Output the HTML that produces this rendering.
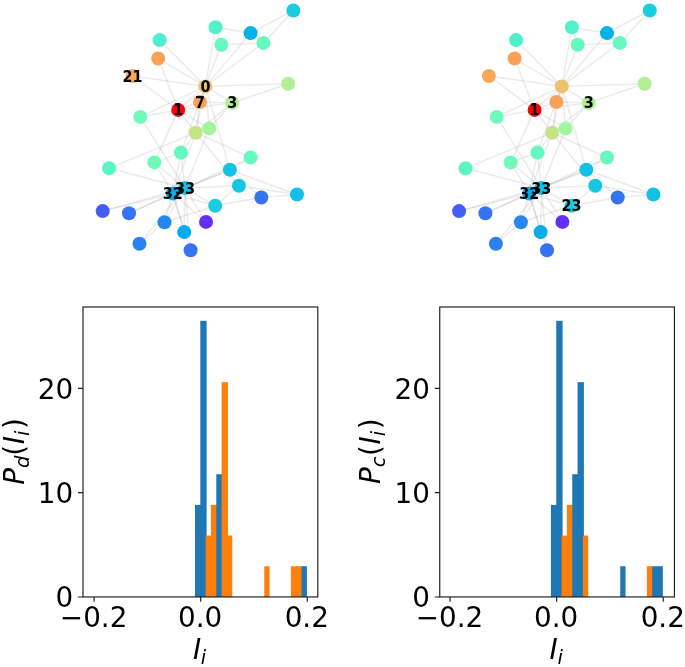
<!DOCTYPE html>
<html><head><meta charset="utf-8"><title>Figure</title>
<style>
html,body{margin:0;padding:0;background:#fff;}
svg{display:block;}
</style></head><body>
<svg width="685" height="667" viewBox="0 0 685 667">
<rect width="685" height="667" fill="#fff"/>
<g transform="translate(0,0)">
<g stroke="#6e6a70" stroke-opacity="0.135" stroke-width="1.45" fill="none">
<line x1="205.4" y1="86.4" x2="178.2" y2="109.9"/>
<line x1="205.4" y1="86.4" x2="195.8" y2="132.7"/>
<line x1="205.4" y1="86.4" x2="232.3" y2="102.9"/>
<line x1="205.4" y1="86.4" x2="221.3" y2="44.7"/>
<line x1="205.4" y1="86.4" x2="250.6" y2="33.1"/>
<line x1="205.4" y1="86.4" x2="263.4" y2="42.9"/>
<line x1="205.4" y1="86.4" x2="200.0" y2="102.0"/>
<line x1="205.4" y1="86.4" x2="181.0" y2="152.6"/>
<line x1="205.4" y1="86.4" x2="215.5" y2="27.3"/>
<line x1="205.4" y1="86.4" x2="159.7" y2="40.1"/>
<line x1="205.4" y1="86.4" x2="288.2" y2="83.8"/>
<line x1="205.4" y1="86.4" x2="209.2" y2="128.4"/>
<line x1="205.4" y1="86.4" x2="158.2" y2="58.5"/>
<line x1="205.4" y1="86.4" x2="140.3" y2="116.9"/>
<line x1="205.4" y1="86.4" x2="132.5" y2="76.0"/>
<line x1="205.4" y1="86.4" x2="229.9" y2="169.8"/>
<line x1="178.2" y1="109.9" x2="195.8" y2="132.7"/>
<line x1="178.2" y1="109.9" x2="232.3" y2="102.9"/>
<line x1="178.2" y1="109.9" x2="200.0" y2="102.0"/>
<line x1="178.2" y1="109.9" x2="209.2" y2="128.4"/>
<line x1="178.2" y1="109.9" x2="158.2" y2="58.5"/>
<line x1="178.2" y1="109.9" x2="140.3" y2="116.9"/>
<line x1="178.2" y1="109.9" x2="132.5" y2="76.0"/>
<line x1="178.2" y1="109.9" x2="154.3" y2="162.4"/>
<line x1="195.8" y1="132.7" x2="232.3" y2="102.9"/>
<line x1="195.8" y1="132.7" x2="200.0" y2="102.0"/>
<line x1="195.8" y1="132.7" x2="181.0" y2="152.6"/>
<line x1="195.8" y1="132.7" x2="109.1" y2="168.2"/>
<line x1="195.8" y1="132.7" x2="209.2" y2="128.4"/>
<line x1="195.8" y1="132.7" x2="238.9" y2="185.8"/>
<line x1="195.8" y1="132.7" x2="250.6" y2="157.5"/>
<line x1="195.8" y1="132.7" x2="172.8" y2="193.5"/>
<line x1="232.3" y1="102.9" x2="200.0" y2="102.0"/>
<line x1="232.3" y1="102.9" x2="288.2" y2="83.8"/>
<line x1="232.3" y1="102.9" x2="209.2" y2="128.4"/>
<line x1="221.3" y1="44.7" x2="263.4" y2="42.9"/>
<line x1="221.3" y1="44.7" x2="215.5" y2="27.3"/>
<line x1="250.6" y1="33.1" x2="263.4" y2="42.9"/>
<line x1="250.6" y1="33.1" x2="215.5" y2="27.3"/>
<line x1="250.6" y1="33.1" x2="293.35" y2="10.5"/>
<line x1="263.4" y1="42.9" x2="293.35" y2="10.5"/>
<line x1="181.0" y1="152.6" x2="154.3" y2="162.4"/>
<line x1="181.0" y1="152.6" x2="172.8" y2="193.5"/>
<line x1="181.0" y1="152.6" x2="184.9" y2="188.0"/>
<line x1="109.1" y1="168.2" x2="184.9" y2="188.0"/>
<line x1="209.2" y1="128.4" x2="184.9" y2="188.0"/>
<line x1="102.7" y1="211.1" x2="172.8" y2="193.5"/>
<line x1="102.7" y1="211.1" x2="184.9" y2="188.0"/>
<line x1="129.0" y1="213.3" x2="172.8" y2="193.5"/>
<line x1="129.0" y1="213.3" x2="184.9" y2="188.0"/>
<line x1="184.2" y1="232.1" x2="172.8" y2="193.5"/>
<line x1="184.2" y1="232.1" x2="184.9" y2="188.0"/>
<line x1="140.3" y1="116.9" x2="184.9" y2="188.0"/>
<line x1="206.0" y1="221.9" x2="172.8" y2="193.5"/>
<line x1="206.0" y1="221.9" x2="184.9" y2="188.0"/>
<line x1="190.6" y1="250.3" x2="172.8" y2="193.5"/>
<line x1="190.6" y1="250.3" x2="184.9" y2="188.0"/>
<line x1="215.2" y1="205.8" x2="261.3" y2="197.5"/>
<line x1="215.2" y1="205.8" x2="238.9" y2="185.8"/>
<line x1="215.2" y1="205.8" x2="164.5" y2="222.3"/>
<line x1="215.2" y1="205.8" x2="172.8" y2="193.5"/>
<line x1="215.2" y1="205.8" x2="184.9" y2="188.0"/>
<line x1="297.0" y1="194.5" x2="261.3" y2="197.5"/>
<line x1="297.0" y1="194.5" x2="238.9" y2="185.8"/>
<line x1="297.0" y1="194.5" x2="229.9" y2="169.8"/>
<line x1="261.3" y1="197.5" x2="229.9" y2="169.8"/>
<line x1="139.5" y1="243.8" x2="164.5" y2="222.3"/>
<line x1="139.5" y1="243.8" x2="184.9" y2="188.0"/>
<line x1="238.9" y1="185.8" x2="184.9" y2="188.0"/>
<line x1="250.6" y1="157.5" x2="229.9" y2="169.8"/>
<line x1="250.6" y1="157.5" x2="184.9" y2="188.0"/>
<line x1="164.5" y1="222.3" x2="172.8" y2="193.5"/>
<line x1="164.5" y1="222.3" x2="184.9" y2="188.0"/>
<line x1="154.3" y1="162.4" x2="172.8" y2="193.5"/>
<line x1="154.3" y1="162.4" x2="184.9" y2="188.0"/>
<line x1="229.9" y1="169.8" x2="172.8" y2="193.5"/>
<line x1="229.9" y1="169.8" x2="184.9" y2="188.0"/>
<line x1="172.8" y1="193.5" x2="184.9" y2="188.0"/>
</g>
<g>
<circle cx="205.4" cy="86.4" r="7.0" fill="#ecc26c"/>
<circle cx="178.2" cy="109.9" r="7.0" fill="#fb0303"/>
<circle cx="195.8" cy="132.7" r="7.0" fill="#c4e488"/>
<circle cx="232.3" cy="102.9" r="7.0" fill="#b1ef95"/>
<circle cx="221.3" cy="44.7" r="7.0" fill="#66f8c0"/>
<circle cx="250.6" cy="33.1" r="7.0" fill="#03b2e8"/>
<circle cx="263.4" cy="42.9" r="7.0" fill="#66f8c0"/>
<circle cx="200.0" cy="102.0" r="7.0" fill="#fba157"/>
<circle cx="181.0" cy="152.6" r="7.0" fill="#66f8c0"/>
<circle cx="109.1" cy="168.2" r="7.0" fill="#5cf5c5"/>
<circle cx="215.5" cy="27.3" r="7.0" fill="#52f1c9"/>
<circle cx="159.7" cy="40.1" r="7.0" fill="#4defcc"/>
<circle cx="288.2" cy="83.8" r="7.0" fill="#b1ef95"/>
<circle cx="209.2" cy="128.4" r="7.0" fill="#a2f59e"/>
<circle cx="102.7" cy="211.1" r="7.0" fill="#435ef7"/>
<circle cx="129.0" cy="213.3" r="7.0" fill="#3473f4"/>
<circle cx="293.35" cy="10.5" r="7.0" fill="#1bcce0"/>
<circle cx="158.2" cy="58.5" r="7.0" fill="#fba157"/>
<circle cx="184.2" cy="232.1" r="7.0" fill="#07adea"/>
<circle cx="140.3" cy="116.9" r="7.0" fill="#70faba"/>
<circle cx="206.0" cy="221.9" r="7.0" fill="#6131fa"/>
<circle cx="132.5" cy="76.0" r="7.0" fill="#fba75a"/>
<circle cx="190.6" cy="250.3" r="7.0" fill="#3473f4"/>
<circle cx="215.2" cy="205.8" r="7.0" fill="#1bcce0"/>
<circle cx="297.0" cy="194.5" r="7.0" fill="#11c2e4"/>
<circle cx="261.3" cy="197.5" r="7.0" fill="#3473f4"/>
<circle cx="139.5" cy="243.8" r="7.0" fill="#2a81f2"/>
<circle cx="238.9" cy="185.8" r="7.0" fill="#16c7e2"/>
<circle cx="250.6" cy="157.5" r="7.0" fill="#66f8c0"/>
<circle cx="164.5" cy="222.3" r="7.0" fill="#2588f1"/>
<circle cx="154.3" cy="162.4" r="7.0" fill="#70faba"/>
<circle cx="229.9" cy="169.8" r="7.0" fill="#11c2e4"/>
<circle cx="172.8" cy="193.5" r="7.0" fill="#07adea"/>
<circle cx="184.9" cy="188.0" r="7.0" fill="#11c2e4"/>
</g>
<g font-family="'DejaVu Sans Condensed','DejaVu Sans','Liberation Sans',sans-serif" font-weight="bold" font-size="16" text-anchor="middle" fill="#000">
<text x="205.4" y="91.9">0</text>
<text x="178.2" y="115.4">1</text>
<text x="232.3" y="108.4">3</text>
<text x="200.0" y="107.5">7</text>
<text x="132.5" y="81.5">21</text>
<text x="172.8" y="199.0">32</text>
<text x="184.9" y="193.5">33</text>
</g></g>
<g transform="translate(356.4,0)">
<g stroke="#6e6a70" stroke-opacity="0.135" stroke-width="1.45" fill="none">
<line x1="205.4" y1="86.4" x2="178.2" y2="109.9"/>
<line x1="205.4" y1="86.4" x2="195.8" y2="132.7"/>
<line x1="205.4" y1="86.4" x2="232.3" y2="102.9"/>
<line x1="205.4" y1="86.4" x2="221.3" y2="44.7"/>
<line x1="205.4" y1="86.4" x2="250.6" y2="33.1"/>
<line x1="205.4" y1="86.4" x2="263.4" y2="42.9"/>
<line x1="205.4" y1="86.4" x2="200.0" y2="102.0"/>
<line x1="205.4" y1="86.4" x2="181.0" y2="152.6"/>
<line x1="205.4" y1="86.4" x2="215.5" y2="27.3"/>
<line x1="205.4" y1="86.4" x2="159.7" y2="40.1"/>
<line x1="205.4" y1="86.4" x2="288.2" y2="83.8"/>
<line x1="205.4" y1="86.4" x2="209.2" y2="128.4"/>
<line x1="205.4" y1="86.4" x2="158.2" y2="58.5"/>
<line x1="205.4" y1="86.4" x2="140.3" y2="116.9"/>
<line x1="205.4" y1="86.4" x2="132.5" y2="76.0"/>
<line x1="205.4" y1="86.4" x2="229.9" y2="169.8"/>
<line x1="178.2" y1="109.9" x2="195.8" y2="132.7"/>
<line x1="178.2" y1="109.9" x2="232.3" y2="102.9"/>
<line x1="178.2" y1="109.9" x2="200.0" y2="102.0"/>
<line x1="178.2" y1="109.9" x2="209.2" y2="128.4"/>
<line x1="178.2" y1="109.9" x2="158.2" y2="58.5"/>
<line x1="178.2" y1="109.9" x2="140.3" y2="116.9"/>
<line x1="178.2" y1="109.9" x2="132.5" y2="76.0"/>
<line x1="178.2" y1="109.9" x2="154.3" y2="162.4"/>
<line x1="195.8" y1="132.7" x2="232.3" y2="102.9"/>
<line x1="195.8" y1="132.7" x2="200.0" y2="102.0"/>
<line x1="195.8" y1="132.7" x2="181.0" y2="152.6"/>
<line x1="195.8" y1="132.7" x2="109.1" y2="168.2"/>
<line x1="195.8" y1="132.7" x2="209.2" y2="128.4"/>
<line x1="195.8" y1="132.7" x2="238.9" y2="185.8"/>
<line x1="195.8" y1="132.7" x2="250.6" y2="157.5"/>
<line x1="195.8" y1="132.7" x2="172.8" y2="193.5"/>
<line x1="232.3" y1="102.9" x2="200.0" y2="102.0"/>
<line x1="232.3" y1="102.9" x2="288.2" y2="83.8"/>
<line x1="232.3" y1="102.9" x2="209.2" y2="128.4"/>
<line x1="221.3" y1="44.7" x2="263.4" y2="42.9"/>
<line x1="221.3" y1="44.7" x2="215.5" y2="27.3"/>
<line x1="250.6" y1="33.1" x2="263.4" y2="42.9"/>
<line x1="250.6" y1="33.1" x2="215.5" y2="27.3"/>
<line x1="250.6" y1="33.1" x2="293.35" y2="10.5"/>
<line x1="263.4" y1="42.9" x2="293.35" y2="10.5"/>
<line x1="181.0" y1="152.6" x2="154.3" y2="162.4"/>
<line x1="181.0" y1="152.6" x2="172.8" y2="193.5"/>
<line x1="181.0" y1="152.6" x2="184.9" y2="188.0"/>
<line x1="109.1" y1="168.2" x2="184.9" y2="188.0"/>
<line x1="209.2" y1="128.4" x2="184.9" y2="188.0"/>
<line x1="102.7" y1="211.1" x2="172.8" y2="193.5"/>
<line x1="102.7" y1="211.1" x2="184.9" y2="188.0"/>
<line x1="129.0" y1="213.3" x2="172.8" y2="193.5"/>
<line x1="129.0" y1="213.3" x2="184.9" y2="188.0"/>
<line x1="184.2" y1="232.1" x2="172.8" y2="193.5"/>
<line x1="184.2" y1="232.1" x2="184.9" y2="188.0"/>
<line x1="140.3" y1="116.9" x2="184.9" y2="188.0"/>
<line x1="206.0" y1="221.9" x2="172.8" y2="193.5"/>
<line x1="206.0" y1="221.9" x2="184.9" y2="188.0"/>
<line x1="190.6" y1="250.3" x2="172.8" y2="193.5"/>
<line x1="190.6" y1="250.3" x2="184.9" y2="188.0"/>
<line x1="215.2" y1="205.8" x2="261.3" y2="197.5"/>
<line x1="215.2" y1="205.8" x2="238.9" y2="185.8"/>
<line x1="215.2" y1="205.8" x2="164.5" y2="222.3"/>
<line x1="215.2" y1="205.8" x2="172.8" y2="193.5"/>
<line x1="215.2" y1="205.8" x2="184.9" y2="188.0"/>
<line x1="297.0" y1="194.5" x2="261.3" y2="197.5"/>
<line x1="297.0" y1="194.5" x2="238.9" y2="185.8"/>
<line x1="297.0" y1="194.5" x2="229.9" y2="169.8"/>
<line x1="261.3" y1="197.5" x2="229.9" y2="169.8"/>
<line x1="139.5" y1="243.8" x2="164.5" y2="222.3"/>
<line x1="139.5" y1="243.8" x2="184.9" y2="188.0"/>
<line x1="238.9" y1="185.8" x2="184.9" y2="188.0"/>
<line x1="250.6" y1="157.5" x2="229.9" y2="169.8"/>
<line x1="250.6" y1="157.5" x2="184.9" y2="188.0"/>
<line x1="164.5" y1="222.3" x2="172.8" y2="193.5"/>
<line x1="164.5" y1="222.3" x2="184.9" y2="188.0"/>
<line x1="154.3" y1="162.4" x2="172.8" y2="193.5"/>
<line x1="154.3" y1="162.4" x2="184.9" y2="188.0"/>
<line x1="229.9" y1="169.8" x2="172.8" y2="193.5"/>
<line x1="229.9" y1="169.8" x2="184.9" y2="188.0"/>
<line x1="172.8" y1="193.5" x2="184.9" y2="188.0"/>
</g>
<g>
<circle cx="205.4" cy="86.4" r="7.0" fill="#ecc26c"/>
<circle cx="178.2" cy="109.9" r="7.0" fill="#fb0303"/>
<circle cx="195.8" cy="132.7" r="7.0" fill="#c4e488"/>
<circle cx="232.3" cy="102.9" r="7.0" fill="#b1ef95"/>
<circle cx="221.3" cy="44.7" r="7.0" fill="#66f8c0"/>
<circle cx="250.6" cy="33.1" r="7.0" fill="#03b2e8"/>
<circle cx="263.4" cy="42.9" r="7.0" fill="#66f8c0"/>
<circle cx="200.0" cy="102.0" r="7.0" fill="#fba157"/>
<circle cx="181.0" cy="152.6" r="7.0" fill="#66f8c0"/>
<circle cx="109.1" cy="168.2" r="7.0" fill="#5cf5c5"/>
<circle cx="215.5" cy="27.3" r="7.0" fill="#52f1c9"/>
<circle cx="159.7" cy="40.1" r="7.0" fill="#4defcc"/>
<circle cx="288.2" cy="83.8" r="7.0" fill="#b1ef95"/>
<circle cx="209.2" cy="128.4" r="7.0" fill="#a2f59e"/>
<circle cx="102.7" cy="211.1" r="7.0" fill="#435ef7"/>
<circle cx="129.0" cy="213.3" r="7.0" fill="#3473f4"/>
<circle cx="293.35" cy="10.5" r="7.0" fill="#1bcce0"/>
<circle cx="158.2" cy="58.5" r="7.0" fill="#fba157"/>
<circle cx="184.2" cy="232.1" r="7.0" fill="#07adea"/>
<circle cx="140.3" cy="116.9" r="7.0" fill="#70faba"/>
<circle cx="206.0" cy="221.9" r="7.0" fill="#6131fa"/>
<circle cx="132.5" cy="76.0" r="7.0" fill="#fba75a"/>
<circle cx="190.6" cy="250.3" r="7.0" fill="#3473f4"/>
<circle cx="215.2" cy="205.8" r="7.0" fill="#1bcce0"/>
<circle cx="297.0" cy="194.5" r="7.0" fill="#11c2e4"/>
<circle cx="261.3" cy="197.5" r="7.0" fill="#3473f4"/>
<circle cx="139.5" cy="243.8" r="7.0" fill="#2a81f2"/>
<circle cx="238.9" cy="185.8" r="7.0" fill="#16c7e2"/>
<circle cx="250.6" cy="157.5" r="7.0" fill="#66f8c0"/>
<circle cx="164.5" cy="222.3" r="7.0" fill="#2588f1"/>
<circle cx="154.3" cy="162.4" r="7.0" fill="#70faba"/>
<circle cx="229.9" cy="169.8" r="7.0" fill="#11c2e4"/>
<circle cx="172.8" cy="193.5" r="7.0" fill="#07adea"/>
<circle cx="184.9" cy="188.0" r="7.0" fill="#11c2e4"/>
</g>
<g font-family="'DejaVu Sans Condensed','DejaVu Sans','Liberation Sans',sans-serif" font-weight="bold" font-size="16" text-anchor="middle" fill="#000">
<text x="178.2" y="115.4">1</text>
<text x="232.3" y="108.4">3</text>
<text x="172.8" y="199.0">32</text>
<text x="184.9" y="193.5">33</text>
<text x="215.2" y="211.3">23</text>
</g></g>
<rect x="194.97" y="504.90" width="6.33" height="92.05" fill="#1f77b4"/>
<rect x="200.30" y="320.81" width="6.33" height="276.14" fill="#1f77b4"/>
<rect x="205.63" y="535.58" width="6.33" height="61.37" fill="#ff7f0e"/>
<rect x="210.96" y="504.90" width="6.33" height="92.05" fill="#ff7f0e"/>
<rect x="216.29" y="474.22" width="6.33" height="122.73" fill="#1f77b4"/>
<rect x="221.62" y="382.17" width="6.33" height="214.78" fill="#ff7f0e"/>
<rect x="226.95" y="535.58" width="5.33" height="61.37" fill="#ff7f0e"/>
<rect x="264.26" y="566.27" width="5.33" height="30.68" fill="#ff7f0e"/>
<rect x="290.91" y="566.27" width="6.33" height="30.68" fill="#ff7f0e"/>
<rect x="296.24" y="566.27" width="6.33" height="30.68" fill="#ff7f0e"/>
<rect x="301.57" y="566.27" width="5.33" height="30.68" fill="#1f77b4"/>
<rect x="83.0" y="307.0" width="234.80" height="289.95" fill="none" stroke="#1c1c1c" stroke-width="1.15"/>
<path d="M94.10 596.95v4.9M200.70 596.95v4.9M307.30 596.95v4.9M83.0 596.95h-4.9M83.0 492.63h-4.9M83.0 388.31h-4.9" stroke="#1c1c1c" stroke-width="1.15" fill="none"/>
<g font-family="'DejaVu Sans','Liberation Sans',sans-serif" font-size="27.8" fill="#000">
<text x="93.60" y="626.8" text-anchor="middle">−0.2</text>
<text x="200.20" y="626.8" text-anchor="middle">0.0</text>
<text x="306.80" y="626.8" text-anchor="middle">0.2</text>
<text x="73.10" y="607.20" text-anchor="end">0</text>
<text x="73.10" y="502.88" text-anchor="end">10</text>
<text x="73.10" y="398.56" text-anchor="end">20</text>
<text x="192.90" y="659.4" font-style="oblique">I<tspan font-size="19.46" dy="4.3" dx="-0.3">i</tspan></text>
<text transform="translate(24.20,484.78) rotate(-90)" font-style="oblique">P<tspan font-size="19.46" dy="4.8">d</tspan><tspan dy="-4.8" dx="0" font-style="normal">(</tspan><tspan dx="0.5">I</tspan><tspan font-size="19.46" dy="4.8">i</tspan><tspan dy="-4.8" dx="1.8" font-style="normal">)</tspan></text>
</g>
<rect x="550.92" y="504.90" width="6.33" height="92.05" fill="#1f77b4"/>
<rect x="556.25" y="320.81" width="6.33" height="276.14" fill="#1f77b4"/>
<rect x="561.58" y="535.58" width="6.33" height="61.37" fill="#ff7f0e"/>
<rect x="566.91" y="504.90" width="6.33" height="92.05" fill="#ff7f0e"/>
<rect x="572.24" y="474.22" width="6.33" height="122.73" fill="#1f77b4"/>
<rect x="577.57" y="382.17" width="6.33" height="214.78" fill="#1f77b4"/>
<rect x="582.90" y="535.58" width="5.33" height="61.37" fill="#ff7f0e"/>
<rect x="620.21" y="566.27" width="5.33" height="30.68" fill="#1f77b4"/>
<rect x="646.86" y="566.27" width="6.33" height="30.68" fill="#ff7f0e"/>
<rect x="652.19" y="566.27" width="6.33" height="30.68" fill="#1f77b4"/>
<rect x="657.52" y="566.27" width="5.33" height="30.68" fill="#1f77b4"/>
<rect x="439.75" y="307.0" width="234.70" height="289.95" fill="none" stroke="#1c1c1c" stroke-width="1.15"/>
<path d="M450.05 596.95v4.9M556.65 596.95v4.9M663.25 596.95v4.9M439.75 596.95h-4.9M439.75 492.63h-4.9M439.75 388.31h-4.9" stroke="#1c1c1c" stroke-width="1.15" fill="none"/>
<g font-family="'DejaVu Sans','Liberation Sans',sans-serif" font-size="27.8" fill="#000">
<text x="449.55" y="626.8" text-anchor="middle">−0.2</text>
<text x="556.15" y="626.8" text-anchor="middle">0.0</text>
<text x="662.75" y="626.8" text-anchor="middle">0.2</text>
<text x="429.85" y="607.20" text-anchor="end">0</text>
<text x="429.85" y="502.88" text-anchor="end">10</text>
<text x="429.85" y="398.56" text-anchor="end">20</text>
<text x="549.60" y="659.4" font-style="oblique">I<tspan font-size="19.46" dy="4.3" dx="-0.3">i</tspan></text>
<text transform="translate(380.45,483.98) rotate(-90)" font-style="oblique">P<tspan font-size="19.46" dy="4.8">c</tspan><tspan dy="-4.8" dx="0.6" font-style="normal">(</tspan><tspan dx="0.5">I</tspan><tspan font-size="19.46" dy="4.8">i</tspan><tspan dy="-4.8" dx="1.8" font-style="normal">)</tspan></text>
</g>
</svg>
</body></html>
